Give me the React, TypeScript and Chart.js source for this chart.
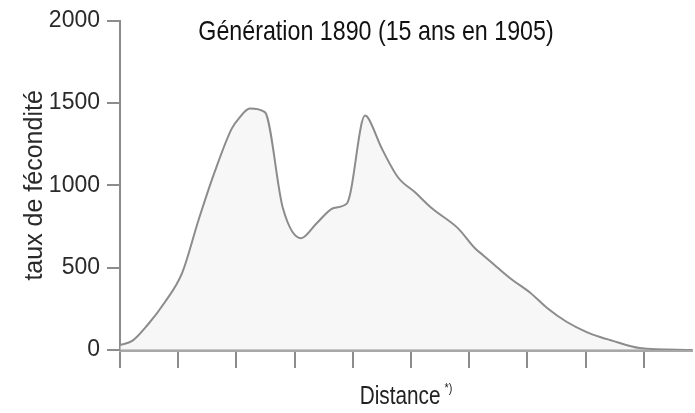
import React, { useEffect, useRef } from 'react';
import { Chart, registerables } from 'chart.js';

Chart.register(...registerables);

// Distance (x) in tick units and fertility rate (y)
const distance = [0, 0.21, 0.48, 0.77, 1.07, 1.35, 1.63, 1.92, 2.05, 2.23, 2.49, 2.8, 3.11, 3.38, 3.66, 3.9, 3.95, 4.21, 4.26, 4.5, 4.78, 5.07, 5.36, 5.81, 6.1, 6.24, 6.48, 6.75, 7.04, 7.34, 7.68, 8.02, 8.25, 8.42, 8.93, 9.83];
const fertility = [30, 55, 155, 290, 470, 790, 1085, 1345, 1410, 1467, 1445, 861, 679, 770, 861, 891, 940, 1424, 1412, 1224, 1048, 958, 861, 739, 618, 576, 503, 424, 351, 255, 170, 109, 79, 61, 12, 0];

const yTicks = [0, 500, 1000, 1500, 2000];
const xTicks = [0, 1, 2, 3, 4, 5, 6, 7, 8, 9];
const xMax = 9.83;

const chartTitle = 'Génération 1890 (15 ans en 1905)';
const yTitle = 'taux de fécondité';
const xTitle = 'Distance';
const xTitleNote = '*)';

const FONT = "'Liberation Sans', Arial, sans-serif";
const SQUEEZE = 0.83;

function narrowText(ctx: CanvasRenderingContext2D, text: string, x: number, y: number) {
  ctx.save();
  ctx.translate(x, y);
  ctx.scale(SQUEEZE, 1);
  ctx.fillText(text, 0, 0);
  ctx.restore();
}

const textPlugin = {
  id: 'textPlugin',
  afterDraw(chart: any) {
    const { ctx, chartArea } = chart;
    ctx.save();
    ctx.fillStyle = '#111';
    ctx.textBaseline = 'middle';
    ctx.textAlign = 'center';
    ctx.font = `28px ${FONT}`;
    narrowText(ctx, chartTitle, chartArea.left + 256, 32);

    ctx.fillStyle = '#222';
    ctx.textAlign = 'left';
    ctx.textBaseline = 'alphabetic';
    ctx.font = `25px ${FONT}`;
    const w = ctx.measureText(xTitle).width * SQUEEZE;
    ctx.font = `13px ${FONT}`;
    const wn = ctx.measureText(xTitleNote).width * SQUEEZE;
    const cx = (chartArea.left + chartArea.right) / 2;
    const startX = cx - (w + 4 + wn) / 2;
    ctx.font = `25px ${FONT}`;
    narrowText(ctx, xTitle, startX, 404);
    ctx.font = `13px ${FONT}`;
    narrowText(ctx, xTitleNote, startX + w + 4, 392);
    ctx.restore();
  },
};

export default function App() {
  const ref = useRef<HTMLCanvasElement>(null);

  useEffect(() => {
    if (!ref.current) return;
    const points = distance.map((d, i) => ({ x: d, y: fertility[i] }));
    const chart = new Chart(ref.current, {
      type: 'line',
      data: {
        datasets: [
          {
            data: points,
            borderColor: '#8c8c8c',
            borderWidth: 2,
            backgroundColor: 'rgba(238,238,238,0.45)',
            fill: 'origin',
            pointRadius: 0,
            cubicInterpolationMode: 'monotone',
          },
        ],
      },
      options: {
        responsive: false,
        animation: false,
        devicePixelRatio: 1,
        layout: { padding: { left: 0, right: 3, top: 20, bottom: 0 } },
        plugins: {
          legend: { display: false },
          tooltip: { enabled: false },
          title: { display: false },
        },
        scales: {
          x: {
            type: 'linear',
            min: 0,
            max: xMax,
            afterBuildTicks: (scale: any) => {
              scale.ticks = xTicks.map((v) => ({ value: v }));
            },
            afterFit: (scale: any) => {
              scale.height = 63;
            },
            ticks: { display: false },
            grid: {
              drawOnChartArea: false,
              drawTicks: true,
              tickLength: 18,
              color: '#8c8c8c',
              lineWidth: 2,
            },
            border: { display: true, color: '#a8a8a8', width: 3 },
          },
          y: {
            type: 'linear',
            min: 0,
            max: 2000,
            afterBuildTicks: (scale: any) => {
              scale.ticks = yTicks.map((v) => ({ value: v }));
            },
            afterFit: (scale: any) => {
              scale.width = 120;
            },
            ticks: {
              padding: 7,
              color: '#2a2a2a',
              font: { family: FONT, size: 23 },
              callback: (v: any) => String(v),
            },
            grid: {
              drawOnChartArea: false,
              drawTicks: true,
              tickLength: 13,
              color: '#8c8c8c',
              lineWidth: 2,
            },
            border: { display: true, color: '#8c8c8c', width: 2 },
            title: {
              display: true,
              text: yTitle,
              color: '#2a2a2a',
              font: { family: FONT, size: 25 },
              padding: { top: 20, bottom: 0 },
            },
          },
        },
      },
      plugins: [textPlugin],
    });
    return () => chart.destroy();
  }, []);

  return (
    <div style={{ position: 'fixed', left: 0, top: 0, width: 695, height: 413, background: '#fff' }}>
      <canvas ref={ref} width={695} height={413} />
    </div>
  );
}
